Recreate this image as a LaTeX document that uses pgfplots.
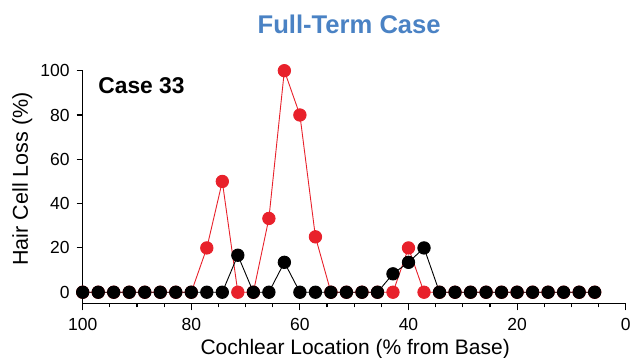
\documentclass[border=0pt]{standalone}
\usepackage{fontspec}
\setmainfont{Liberation Sans}
\usepackage{pgfplots}
\pgfplotsset{compat=1.18}
\usepackage{pgfplotstable}
\usetikzlibrary{calc}

\definecolor{lossred}{HTML}{E8212B}
\definecolor{titleblue}{HTML}{4A82C4}

% Hair cell loss along the cochlea (location in % from base)
\pgfplotstableread{
loc    ohc   ihc
100    0     0
97.14  0     0
94.29  0     0
91.43  0     0
88.57  0     0
85.71  0     0
82.86  0     0
80     0     0
77.14  20    0
74.29  50    0
71.43  0     16.7
68.57  0     0
65.71  33.3  0
62.86  100   13.5
60     80    0
57.14  25    0
54.29  0     0
51.43  0     0
48.57  0     0
45.71  0     0
42.86  0     8.3
40     20    13.5
37.14  0     20
34.29  0     0
31.43  0     0
28.57  0     0
25.71  0     0
22.86  0     0
20     0     0
17.14  0     0
14.29  0     0
11.43  0     0
8.57   0     0
5.71   0     0
}\losstable

\begin{document}
\begin{tikzpicture}
\begin{axis}[
  name=ax,
  scale only axis,
  width=543pt, height=232.6pt,
  x dir=reverse,
  xmin=0, xmax=100, ymin=-5, ymax=100,
  axis x line*=bottom, axis y line*=left,
  axis line style={-, line width=1.1pt},
  every tick/.style={black, line width=1.1pt},
  tick align=outside,
  xtick={0,20,...,100}, minor x tick num=3,
  ytick={0,20,...,100},
  major tick length=7pt, minor tick length=4pt,
  y tick style={/pgfplots/major tick length=6pt},
  /pgf/number format/assume math mode=true,
  ticklabel style={font=\fontsize{17.5}{20}\selectfont, inner sep=0pt},
  xticklabel style={anchor=base, yshift=-20pt},
  yticklabel style={anchor=east, xshift=-6pt},
  clip=false,
]
\addplot[lossred, line width=0.9pt, mark=*, mark size=6.2pt,
  mark options={fill=lossred, draw=lossred}] table[x=loc, y=ohc] {\losstable};
\addplot[black, line width=0.9pt, mark=*, mark size=6.2pt,
  mark options={fill=black, draw=black}] table[x=loc, y=ihc] {\losstable};
\end{axis}
% titles and axis labels
\node[anchor=base, inner sep=0pt, text=titleblue,
  font=\fontsize{25.6}{30}\selectfont\bfseries]
  at ($(ax.north west)+(266.5pt,37.4pt)$) {Full-Term Case};
\node[anchor=base west, inner sep=0pt, font=\fontsize{22.8}{26}\selectfont\bfseries]
  at ($(ax.north west)+(15.5pt,-22.6pt)$) {Case 33};
\node[anchor=base, inner sep=0pt, font=\fontsize{21}{24}\selectfont]
  at ($(ax.south west)+(272.5pt,-51pt)$) {Cochlear Location (\% from Base)};
\node[anchor=base, inner sep=0pt, rotate=90, font=\fontsize{21.5}{24}\selectfont]
  at ($(ax.south west)+(-54.7pt,124.3pt)$) {Hair Cell Loss (\%)};
\pgfresetboundingbox
\path[use as bounding box] ($(ax.south west)+(-82.7pt,-54.7pt)$)
  rectangle ($(ax.north east)+(5.3pt,70.7pt)$);
\end{tikzpicture}
\end{document}
